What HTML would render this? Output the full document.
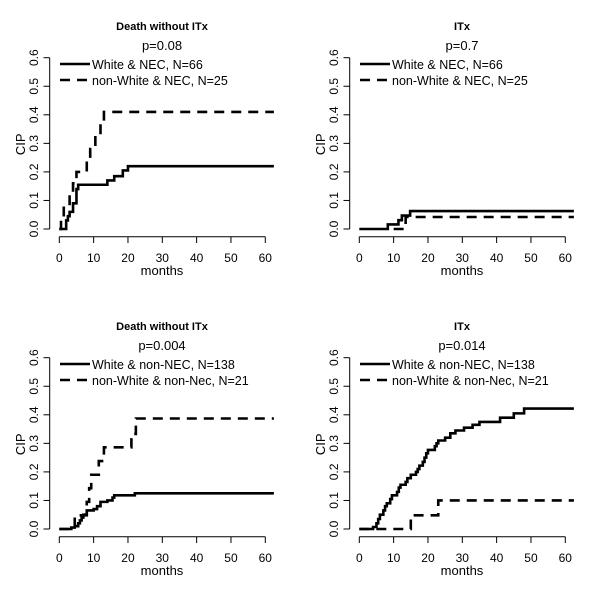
<!DOCTYPE html>
<html><head><meta charset="utf-8"><style>
body{margin:0;background:#fff}
svg{display:block;font-family:"Liberation Sans",Arial,sans-serif}
</style></head><body>
<svg id="c" width="600" height="600" viewBox="0 0 600 600"></svg>
<script>
const titles = ["Death without ITx","ITx","Death without ITx","ITx"];
const pvalues = ["p=0.08","p=0.7","p=0.004","p=0.014"];
const legendSolid = ["White & NEC, N=66","White & NEC, N=66","White & non-NEC, N=138","White & non-NEC, N=138"];
const legendDashed = ["non-White & NEC, N=25","non-White & NEC, N=25","non-White & non-Nec, N=21","non-White & non-Nec, N=21"];
const xTicks = [0,10,20,30,40,50,60];
const yTicks = [0,0.1,0.2,0.3,0.4,0.5,0.6];
const yTickLabels = ["0.0","0.1","0.2","0.3","0.4","0.5","0.6"];
const s1t = [0,2,2.5,3,4,5,5.5,14,16,18.5,20];
const s1v = [0,0.03,0.045,0.06,0.09,0.14,0.155,0.17,0.185,0.205,0.22];
const d1t = [0,0.5,1.3,3,4,5,8,9,10.5,12,13];
const d1v = [0,0.04,0.08,0.12,0.16,0.2,0.24,0.28,0.33,0.37,0.41];
const s2t = [0,8.3,11.4,12.4,14.8];
const s2v = [0,0.016,0.031,0.047,0.063];
const d2t = [10,13.5];
const d2v = [0,0.042];
const s3t = [0,3.5,4.5,5.5,6,6.5,7,8,10,11,12,14,15.5,16,22];
const s3v = [0,0.005,0.01,0.02,0.03,0.04,0.05,0.065,0.07,0.08,0.095,0.1,0.11,0.118,0.125];
const d3t = [0,4.5,8,8.7,9.3,11.5,13,21,22.3];
const d3v = [0,0.048,0.095,0.143,0.19,0.238,0.286,0.333,0.387];
const s4t = [0,4,5,5.5,6,7,7.5,8,9,9.5,11,11.5,12,13.5,14,15,16.5,17,17.5,18.5,19,19.5,20,22,22.5,23,25,26.5,28,30.5,33,35,41,45,48];
const s4v = [0,0.007,0.02,0.035,0.05,0.065,0.08,0.09,0.105,0.118,0.13,0.145,0.155,0.165,0.178,0.19,0.2,0.21,0.222,0.235,0.25,0.265,0.277,0.29,0.3,0.31,0.32,0.335,0.345,0.355,0.365,0.375,0.39,0.405,0.422];
const d4t = [0,15,23];
const d4v = [0,0.048,0.1];
const solidT=[s1t,s2t,s3t,s4t], solidV=[s1v,s2v,s3v,s4v];
const dashT=[d1t,d2t,d3t,d4t], dashV=[d1v,d2v,d3v,d4v];
const tEnd = 62.5;

const svg=document.getElementById('c');
const NS='http://www.w3.org/2000/svg';
function mk(tag,attrs,parent){const e=document.createElementNS(NS,tag);for(const k in attrs)e.setAttribute(k,attrs[k]);(parent||svg).appendChild(e);return e;}

for(let p=0;p<4;p++){
  const ox=(p%2)*300, oy=Math.floor(p/2)*300;
  const g=mk('g',{transform:`translate(${ox},${oy})`});
  
  
  const X=t=>59.3+t*(206/60);
  const Y=v=>229-v*(171.3/0.6);
  let e;
  e=mk('text',{x:162,y:30,'text-anchor':'middle','font-size':'11','font-weight':'bold'},g);e.textContent=titles[p];
  
  
  e=mk('text',{x:162,y:50,'text-anchor':'middle','font-size':'13'},g);e.textContent=pvalues[p];
  
  
  const xa=mk('g',{},g);
  
  
  mk('line',{x1:X(0),x2:X(60),y1:236.7,y2:236.7,stroke:'#000','stroke-width':1},xa);
  xTicks.forEach(t=>{mk('line',{x1:X(t),x2:X(t),y1:236.7,y2:243,stroke:'#000'},xa);
    const l=mk('text',{x:X(t),y:262,'text-anchor':'middle','font-size':'12'},xa);l.textContent=t;
    
    });
  e=mk('text',{x:162,y:275,'text-anchor':'middle','font-size':'13'},g);e.textContent='months';
  
  
  const ya=mk('g',{},g);
  
  
  mk('line',{x1:49.7,x2:49.7,y1:Y(0),y2:Y(0.6),stroke:'#000'},ya);
  yTicks.forEach((v,i)=>{mk('line',{x1:43.5,x2:49.7,y1:Y(v),y2:Y(v),stroke:'#000'},ya);
    const l=mk('text',{x:0,y:0,'text-anchor':'middle','font-size':'12',transform:`translate(38,${Y(v)}) rotate(-90)`},ya);l.textContent=yTickLabels[i];
    
    });
  e=mk('text',{x:0,y:0,'text-anchor':'middle','font-size':'13',transform:`translate(25,${Y(0.3)+1}) rotate(-90)`},g);e.textContent='CIP';
  
  
  mk('line',{x1:60,x2:90,y1:64,y2:64,stroke:'#000','stroke-width':2.6},g);
  mk('line',{x1:60,x2:90,y1:80,y2:80,stroke:'#000','stroke-width':2.6,'stroke-dasharray':'10,7'},g);
  e=mk('text',{x:92,y:69,'font-size':'12.5'},g);e.textContent=legendSolid[p];
  
  
  e=mk('text',{x:92,y:85,'font-size':'12.5'},g);e.textContent=legendDashed[p];
  
  
  function step(ts,vs){let d=`M${X(ts[0])},${Y(vs[0])}`;for(let i=1;i<ts.length;i++){d+=`H${X(ts[i])}V${Y(vs[i])}`;}d+=`H${X(tEnd)}`;return d;}
  e=mk('path',{d:step(solidT[p],solidV[p]),fill:'none',stroke:'#000','stroke-width':2.6},g);
  
  
  e=mk('path',{d:step(dashT[p],dashV[p]),fill:'none',stroke:'#000','stroke-width':2.6,'stroke-dasharray':'10,7'},g);
  
  
}
</script>
</body></html>
